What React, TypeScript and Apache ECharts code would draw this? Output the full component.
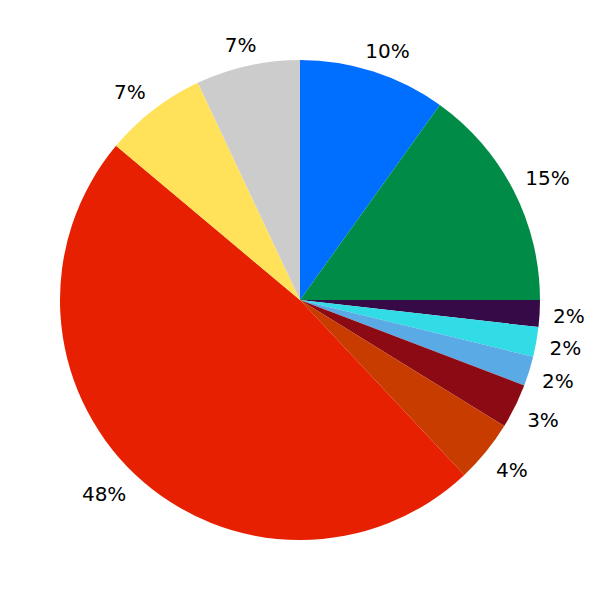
import React, { useEffect, useRef } from "react";
import * as echarts from "echarts";

const categories = ["A", "B", "C", "D", "E", "F", "G", "H", "I", "J"];
const values = [9.9, 15.1, 1.8, 2.0, 2.0, 3.0, 4.2, 48.1, 6.9, 7.0];
const colors = [
  "#006EFF",
  "#008C46",
  "#360A46",
  "#32DCE6",
  "#5AAAE6",
  "#8C0A14",
  "#C83C00",
  "#E62000",
  "#FFE15A",
  "#CCCCCC",
];

const CX = 300;
const CY = 300;
const ANCHOR_R = 255; // radius of the point each label box hangs from

const clamp01 = (v: number) => Math.max(0, Math.min(1, v));

export default function App() {
  const ref = useRef<HTMLDivElement>(null);
  useEffect(() => {
    document.body.style.margin = "0";
    const chart = echarts.init(ref.current!, null, { renderer: "svg" });
    const data = categories.map((c, i) => ({
      name: c,
      value: values[i],
      itemStyle: { color: colors[i] },
    }));
    const fmt = (p: any) => Math.round(p.percent) + "%";
    const layout = (p: any) => {
      const r = p.labelRect;
      const mx = r.x + r.width / 2 - CX;
      const my = r.y + r.height / 2 - CY;
      const len = Math.sqrt(mx * mx + my * my) || 1;
      const ux = mx / len;
      const uy = my / len;
      const hw = r.width / 2 - 1.5;
      const hh = 7.5;
      const fx = clamp01((Math.abs(ux) - 0.1) / 0.45);
      const fy = clamp01((Math.abs(uy) - 0.05) / 0.45);
      const px = CX + ANCHOR_R * ux;
      const py = CY + ANCHOR_R * uy;
      return {
        x: px + Math.sign(ux) * hw * fx,
        y: py + Math.sign(uy) * hh * fy + 1,
        align: "center",
        verticalAlign: "middle",
      };
    };
    chart.setOption({
      animation: false,
      series: [
        {
          type: "pie",
          center: [CX, CY],
          radius: [0, 240],
          startAngle: 90,
          clockwise: true,
          silent: true,
          label: { show: false },
          labelLine: { show: false },
          itemStyle: { borderWidth: 0 },
          data,
        },
        {
          type: "pie",
          center: [CX, CY],
          radius: [240, 299],
          startAngle: 90,
          clockwise: true,
          silent: true,
          itemStyle: { color: "transparent", borderWidth: 0 },
          label: {
            show: true,
            position: "inside",
            formatter: fmt,
            color: "#000",
            fontFamily: "DejaVu Sans",
            fontSize: 20,
          },
          labelLayout: layout,
          labelLine: { show: false },
          data: categories.map((c, i) => ({ name: c, value: values[i] })),
        },
      ],
    });
    return () => chart.dispose();
  }, []);
  return <div ref={ref} style={{ width: 600, height: 600 }} />;
}
